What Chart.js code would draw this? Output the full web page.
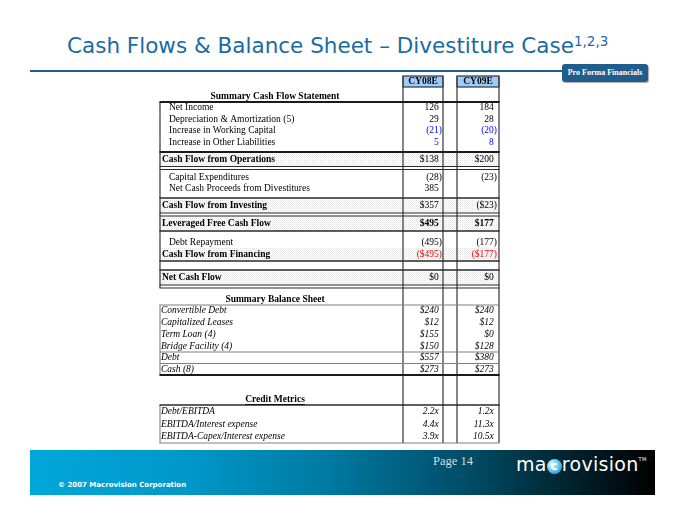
<!DOCTYPE html>
<html>
<head>
<meta charset="utf-8">
<script src="https://cdn.jsdelivr.net/npm/chart.js@4.4.1/dist/chart.umd.min.js"></script>
<style>
html, body { margin: 0; padding: 0; background: #fff; }
#page { position: relative; width: 680px; height: 525px; overflow: hidden; font-family: 'DejaVu Sans', Verdana, sans-serif; }
#table { position: absolute; left: 0; top: 0; }
.title { position: absolute; left: 67px; top: 33px; font-size: 21.5px; color: #1b6aa3; white-space: nowrap; line-height: 26px; }
.title sup { font-size: 13.5px; vertical-align: 7px; line-height: 0; }
.rule { position: absolute; left: 30px; top: 70px; width: 556px; height: 2px; background: #1f5f8f; }
.badge { position: absolute; left: 562px; top: 64px; width: 86px; height: 18px; background: #1f5d8d; border-radius: 3px;
         color: #fff; font: bold 8px 'Liberation Serif', serif; text-align: center; line-height: 18px; box-shadow: 1px 1px 1px rgba(0,0,0,.35); white-space: nowrap; }
.footer { position: absolute; left: 30px; top: 450px; width: 625px; height: 45px;
          background: linear-gradient(90deg, #00a7da 0%, #0098c9 25%, #0079a2 48%, #004860 72%, #000 100%); }
.page-no { position: absolute; left: 403px; top: 4px; font: 12.5px 'Liberation Serif', serif; color: #d5dde2; }
.copy { position: absolute; left: 28px; top: 31px; font: bold 7px 'DejaVu Sans', sans-serif; color: #fff; }
.logo { position: absolute; left: 486px; top: 3px; font: 19px 'DejaVu Sans', sans-serif; color: #fff; letter-spacing: 0.3px; }
.logo .dot { display: inline-block; width: 15px; height: 15px; border-radius: 50%; background: radial-gradient(circle at 35% 35%, #fff 0%, #7fd3f5 35%, #0a86c0 100%);
             color: #fff; font-size: 12px; line-height: 14px; text-align: center; vertical-align: 1px; font-weight: bold; }
.logo .tm { font-size: 5px; vertical-align: 10px; }
</style>
</head>
<body>
<div id="page">
  <div class="title">Cash Flows &amp; Balance Sheet – Divestiture Case<sup>1,2,3</sup></div>
  <div class="rule"></div>
  <div class="badge">Pro Forma Financials</div>
  <canvas id="table" width="680" height="525"></canvas>
  <div class="footer">
    <div class="page-no">Page 14</div>
    <div class="copy">© 2007 Macrovision Corporation</div>
    <div class="logo">ma<span class="dot">c</span>rovision<span class="tm">TM</span></div>
  </div>
</div>
<script>
// data
const columns = ['CY08E', 'CY09E'];
const sectionTitles = ['Summary Cash Flow Statement', 'Summary Balance Sheet', 'Credit Metrics'];

const cashFlowLabels = ['Net Income', 'Depreciation & Amortization (5)', 'Increase in Working Capital',
    'Increase in Other Liabilities', 'Cash Flow from Operations', 'Capital Expenditures',
    'Net Cash Proceeds from Divestitures', 'Cash Flow from Investing', 'Leveraged Free Cash Flow',
    'Debt Repayment', 'Cash Flow from Financing', 'Net Cash Flow'];
const cashFlow08 = [126, 29, -21, 5, 138, -28, 385, 357, 495, -495, -495, 0];
const cashFlow09 = [184, 28, -20, 8, 200, -23, null, -23, 177, -177, -177, 0];

const balanceLabels = ['Convertible Debt', 'Capitalized Leases', 'Term Loan (4)', 'Bridge Facility (4)', 'Debt', 'Cash (8)'];
const balance08 = [240, 12, 155, 150, 557, 273];
const balance09 = [240, 12, 0, 128, 380, 273];

const creditLabels = ['Debt/EBITDA', 'EBITDA/Interest expense', 'EBITDA-Capex/Interest expense'];
const credit08 = [2.2, 4.4, 3.9];
const credit09 = [1.2, 11.3, 10.5];

// styles
const cashFlowKind = ['item', 'item', 'item', 'item', 'total', 'item', 'item', 'total', 'total', 'item', 'total', 'total'];
const cashFlowColor = ['#000', '#000', '#0000ff', '#0000ff', '#000', '#000', '#000', '#000', '#000', '#000', '#ff0000', '#000'];
const cashFlowBold = [false, false, false, false, false, false, false, false, true, false, false, false];

// table layout (table pixels)
const tableW = 339, tableH = 367;
const colLines = [243, 283, 297, 339];
const headBoxes = [[243, 283], [297, 339]];
const valueAnchor = [282, 337];

function money(v, dollar) {
    if (v === null) return null;
    let s = (dollar ? '$' : '') + Math.abs(v);
    return v < 0 ? '(' + s + ')' : s;
}

function cf(i, h) {
    const total = cashFlowKind[i] === 'total';
    return { kind: cashFlowKind[i], h: h, label: cashFlowLabels[i], color: cashFlowColor[i], bold: cashFlowBold[i],
             values: [money(cashFlow08[i], total), money(cashFlow09[i], total)] };
}
function bs(i, h) {
    return { kind: 'italic', h: h, label: balanceLabels[i], color: '#000',
             values: ['$' + balance08[i], '$' + balance09[i]] };
}
function cr(i, h) {
    return { kind: 'italic', h: h, label: creditLabels[i], color: '#000',
             values: [credit08[i].toFixed(1) + 'x', credit09[i].toFixed(1) + 'x'] };
}

const layout = [
    { kind: 'head', h: 11 },
    { kind: 'section', h: 15, label: sectionTitles[0] },
    { rule: 'thick' },
    cf(0, 11.5), cf(1, 11.5), cf(2, 11.5), cf(3, 11.5),
    { kind: 'gap', h: 4 },
    { rule: 'thick' },
    cf(4, 14.5),
    { rule: 'double', h: 3 },
    { kind: 'gap', h: 2 },
    cf(5, 11.5), cf(6, 11.5),
    { kind: 'gap', h: 3.5 },
    { rule: 'thin' },
    cf(7, 15),
    { rule: 'double', h: 3 },
    cf(8, 15),
    { rule: 'thin' },
    { kind: 'gap', h: 5.5 },
    cf(9, 11.5),
    cf(10, 13),
    { rule: 'thin' },
    { kind: 'gap', h: 9 },
    { rule: 'thin' },
    cf(11, 15),
    { rule: 'double', h: 3 },
    { kind: 'section', h: 17, label: sectionTitles[1] },
    { rule: 'gray' },
    bs(0, 11.75), bs(1, 11.75), bs(2, 11.75), bs(3, 11.75),
    { rule: 'gray' },
    bs(4, 11.5),
    { rule: 'gray' },
    bs(5, 11.5),
    { rule: 'thick' },
    { kind: 'section', h: 30, label: sectionTitles[2], underline: true },
    { rule: 'thin' },
    cr(0, 12.67), cr(1, 12.67), cr(2, 12.67),
    { rule: 'gray' }
];

// place rows top to bottom
let cursor = 0, group = 0;
layout.forEach(r => {
    r.h = r.h || 0;
    if (r.kind === 'section') group++;
    r.group = group;
    r.top = cursor;
    r.mid = cursor + r.h / 2;
    cursor += r.h;
});

const points = [[], []];
layout.forEach(r => {
    if (!r.values) return;
    r.values.forEach((v, c) => {
        if (v === null) return;
        points[c].push({ x: valueAnchor[c], y: r.mid, text: v, color: r.color, bold: r.bold, italic: r.kind === 'italic' });
    });
});

const serif = "'Liberation Serif', 'Times New Roman', serif";
function fontFor(r, size) {
    return (r.kind === 'italic' ? 'italic ' : '') + (r.kind === 'total' || r.bold ? 'bold ' : '') + size + 'px ' + serif;
}

let stipple = null;
function getStipple(ctx) {
    if (stipple) return stipple;
    const pc = document.createElement('canvas');
    pc.width = 2; pc.height = 2;
    const p = pc.getContext('2d');
    p.fillStyle = '#fff'; p.fillRect(0, 0, 2, 2);
    p.fillStyle = '#e2e2e2'; p.fillRect(0, 0, 1, 1);
    p.fillStyle = '#f3f3f3'; p.fillRect(1, 1, 1, 1);
    stipple = ctx.createPattern(pc, 'repeat');
    return stipple;
}

const tablePlugin = {
    id: 'tableGrid',
    beforeDatasetsDraw(chart) {
        const ctx = chart.ctx, x = chart.scales.x, y = chart.scales.y;
        const X = v => x.getPixelForValue(v), Y = v => y.getPixelForValue(v);
        ctx.save();

        // shaded total rows
        layout.forEach(r => {
            if (r.kind !== 'total') return;
            ctx.fillStyle = getStipple(ctx);
            ctx.fillRect(X(0), Y(r.top), X(tableW) - X(0), Y(r.top + r.h) - Y(r.top));
        });

        // column header boxes
        headBoxes.forEach(([a, b], c) => {
            ctx.fillStyle = '#9ccdfa';
            ctx.fillRect(X(a), Y(0), X(b) - X(a), Y(11) - Y(0));
            ctx.strokeStyle = '#333'; ctx.lineWidth = 1.2;
            ctx.strokeRect(X(a), Y(0), X(b) - X(a), Y(11) - Y(0));
            ctx.fillStyle = '#000';
            ctx.font = 'bold 9.5px ' + serif;
            ctx.textAlign = 'center'; ctx.textBaseline = 'middle';
            ctx.fillText(columns[c], (X(a) + X(b)) / 2, Y(5.8));
        });

        // left border of each block
        layout.forEach(r => {
            if (r.kind === 'head' || r.kind === 'section' || !r.h) return;
            ctx.strokeStyle = r.group === 1 ? '#333' : '#8a8a8a';
            ctx.lineWidth = 1.2;
            ctx.beginPath();
            ctx.moveTo(X(0), Y(r.top)); ctx.lineTo(X(0), Y(r.top + r.h));
            ctx.stroke();
        });

        // column lines
        ctx.strokeStyle = '#444'; ctx.lineWidth = 1.3;
        colLines.forEach(c => {
            ctx.beginPath();
            ctx.moveTo(X(c), Y(0)); ctx.lineTo(X(c), Y(tableH));
            ctx.stroke();
        });

        // horizontal rules
        const hline = (v, w, col) => {
            ctx.strokeStyle = col; ctx.lineWidth = w;
            ctx.beginPath();
            ctx.moveTo(X(0) - 0.5, Y(v)); ctx.lineTo(X(tableW) + 0.5, Y(v));
            ctx.stroke();
        };
        layout.forEach(r => {
            if (!r.rule) return;
            if (r.rule === 'thick') hline(r.top, 2, '#1a1a1a');
            if (r.rule === 'thin') hline(r.top, 1.3, '#2a2a2a');
            if (r.rule === 'gray') hline(r.top, 1.2, '#808080');
            if (r.rule === 'double') { hline(r.top, 1.2, '#2a2a2a'); hline(r.top + r.h, 1.2, '#2a2a2a'); }
        });

        // row labels and section titles
        ctx.textBaseline = 'middle';
        layout.forEach(r => {
            if (!r.label) return;
            if (r.kind === 'section') {
                ctx.font = 'bold 9.5px ' + serif;
                ctx.fillStyle = '#000'; ctx.textAlign = 'center';
                const cx = X(115), cy = Y(r.top + r.h - 5.5);
                ctx.fillText(r.label, cx, cy);
                if (r.underline) {
                    const w = ctx.measureText(r.label).width;
                    ctx.strokeStyle = '#000'; ctx.lineWidth = 0.8;
                    ctx.beginPath(); ctx.moveTo(cx - w / 2, cy + 5); ctx.lineTo(cx + w / 2, cy + 5); ctx.stroke();
                }
                return;
            }
            ctx.font = fontFor(r, 9.5);
            ctx.fillStyle = '#000'; ctx.textAlign = 'left';
            const indent = r.kind === 'item' ? 9 : r.kind === 'total' ? 2 : 1;
            ctx.fillText(r.label, X(indent), Y(r.mid));
        });
        ctx.restore();
    },
    afterDatasetsDraw(chart) {
        const ctx = chart.ctx;
        ctx.save();
        ctx.textAlign = 'right'; ctx.textBaseline = 'middle';
        chart.data.datasets.forEach((ds, di) => {
            chart.getDatasetMeta(di).data.forEach((el, i) => {
                const p = ds.data[i];
                ctx.font = (p.italic ? 'italic ' : '') + (p.bold ? 'bold ' : '') + '9.5px ' + serif;
                ctx.fillStyle = p.color;
                const shift = p.text.endsWith(')') ? 0 : ctx.measureText(')').width;
                ctx.fillText(p.text, el.x - shift, el.y);
            });
        });
        ctx.restore();
    }
};

new Chart(document.getElementById('table').getContext('2d'), {
    type: 'scatter',
    data: {
        datasets: [
            { label: columns[0], data: points[0], pointRadius: 0, pointHoverRadius: 0 },
            { label: columns[1], data: points[1], pointRadius: 0, pointHoverRadius: 0 }
        ]
    },
    options: {
        responsive: false,
        animation: false,
        layout: { padding: { left: 160, right: 181, top: 76, bottom: 82 } },
        plugins: { legend: { display: false }, tooltip: { enabled: false } },
        scales: {
            x: { type: 'linear', min: 0, max: tableW, display: false },
            y: { type: 'linear', min: 0, max: tableH, reverse: true, display: false }
        }
    },
    plugins: [tablePlugin]
});
</script>
</body>
</html>
